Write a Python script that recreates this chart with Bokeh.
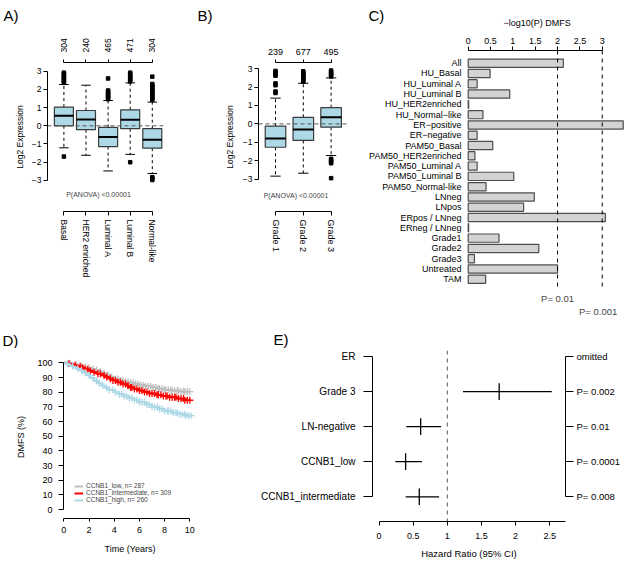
import numpy as np
from bokeh.plotting import figure
from bokeh.models import Range1d, LinearAxis, FixedTicker, Label, Span, Legend, LegendItem
from bokeh.layouts import row, column
from bokeh.embed import file_html
from bokeh.resources import INLINE

FONT = "Liberation Sans"

# ---------------- Panel A data ----------------
A_groups = ["Basal", "HER2 enriched", "Luminal A", "Luminal B", "Normal-like"]
A_counts = ["304", "240", "465", "471", "304"]
A_q1 = [0.00, -0.21, -1.14, -0.16, -1.23]
A_med = [0.55, 0.34, -0.62, 0.33, -0.77]
A_q3 = [1.03, 0.84, -0.09, 0.88, -0.16]
A_lo = [-1.21, -1.62, -2.48, -1.57, -2.62]
A_hi = [2.27, 2.23, 1.39, 2.36, 1.30]
A_out = [[2.36, 2.44, 2.52, 2.60, 2.68, 2.76, 2.84, 2.92, -1.69],
         [],
         [1.46, 1.54, 1.62, 1.70, 1.78, 1.86, 1.94, 2.60],
         [2.44, 2.52, 2.60, 2.68, 2.76, 2.84, 2.92, -2.00],
         [1.42, 1.50, 1.58, 1.66, 1.74, 1.82, 1.90, 1.98, 2.06, 2.14, 2.22, 2.30, 2.70,
          -2.82, -2.90, -2.98]]
A_pval = "P(ANOVA) <0.00001"

# ---------------- Panel B data ----------------
B_groups = ["Grade 1", "Grade 2", "Grade 3"]
B_counts = ["239", "677", "495"]
B_q1 = [-1.27, -0.90, -0.18]
B_med = [-0.79, -0.30, 0.36]
B_q3 = [-0.12, 0.36, 0.88]
B_lo = [-2.84, -2.68, -1.72]
B_hi = [1.40, 2.21, 2.50]
B_out = [[1.68, 1.76, 2.10, 2.20, 2.62, 2.70, 2.78, 2.88],
         [2.30, 2.38, 2.46, 2.54, 2.62, 2.70, 2.78, 2.86],
         [2.58, 2.66, 2.74, 2.82, 2.90, -1.90, -1.98, -2.06, -2.14, -2.95]]
B_pval = "P(ANOVA) <0.00001"

Y_ticks = [-3, -2, -1, 0, 1, 2, 3]
Y_tick_labels = ["\u22123", "\u22122", "\u22121", "0", "1", "2", "3"]

# ---------------- Panel C data ----------------
C_labels = ["All", "HU_Basal", "HU_Luminal A", "HU_Luminal B", "HU_HER2enriched",
            "HU_Normal\u2212like", "ER\u2212positive", "ER\u2212negative", "PAM50_Basal",
            "PAM50_HER2enriched", "PAM50_Luminal A", "PAM50_Luminal B", "PAM50_Normal-like",
            "LNneg", "LNpos", "ERpos / LNneg", "ERneg / LNneg", "Grade1", "Grade2", "Grade3",
            "Untreated", "TAM"]
C_vals = [2.13, 0.49, 0.20, 0.93, 0.01, 0.33, 3.47, 0.20, 0.55, 0.15, 0.20, 1.02, 0.40,
          1.48, 1.24, 3.07, 0.01, 0.69, 1.58, 0.14, 2.00, 0.39]
C_ticks = [0, 0.5, 1, 1.5, 2, 2.5, 3]
C_tick_labels = ["0", "0.5", "1", "1.5", "2", "2.5", "3"]
C_thresh = [2, 3]
C_thresh_labels = ["P= 0.01", "P= 0.001"]
C_title = "\u2212log10(P) DMFS"

# ---------------- Panel D data ----------------
D_low_t = [0, 0.3, 0.6, 0.9, 1.2, 1.5, 1.8, 2.1, 2.4, 2.8, 3.1, 3.4, 3.7, 4.0, 4.4, 4.8,
           5.2, 5.6, 6.0, 6.5, 7.0, 7.5, 8.0, 8.6, 9.2, 10.0]
D_low_s = [100, 99.7, 99.3, 98.6, 97.9, 97.2, 96.5, 95.8, 95.1, 94.0, 92.9, 91.8, 90.4, 89.0,
           87.9, 87.1, 86.4, 85.6, 84.8, 84.0, 83.2, 82.4, 81.6, 81.0, 80.4, 80.4]
D_low_cens = [0.5, 1.0, 1.4, 1.7, 2.0, 2.3, 2.6, 2.9, 3.2, 3.5, 3.8, 4.1, 4.3, 4.5, 4.7, 4.9,
              5.1, 5.3, 5.5, 5.7, 5.9, 6.1, 6.3, 6.5, 6.7, 6.9, 7.1, 7.3, 7.5, 7.6, 7.8, 8.0,
              8.1, 8.3, 8.5, 8.6, 8.8, 9.0, 9.1, 9.3, 9.5, 9.6, 9.8, 10.0]
D_mid_t = [0, 0.2, 0.5, 0.8, 1.1, 1.4, 1.7, 2.0, 2.3, 2.6, 3.0, 3.3, 3.6, 3.9, 4.2, 4.6, 5.0,
           5.3, 5.6, 6.0, 6.4, 6.8, 7.3, 7.8, 8.3, 9.0, 9.6, 10.0]
D_mid_s = [100, 99.6, 99.0, 98.3, 97.6, 96.6, 95.6, 94.6, 93.6, 92.6, 91.4, 90.3, 89.1, 88.0,
           86.8, 85.6, 84.4, 83.2, 82.2, 81.1, 80.1, 79.1, 78.2, 77.4, 76.6, 75.6, 74.5, 74.5]
D_mid_cens = [0.4, 0.9, 1.3, 1.5, 1.7, 1.9, 2.1, 2.4, 2.7, 2.9, 3.2, 3.4, 3.7, 3.9, 4.1, 4.3,
              4.5, 4.7, 4.9, 5.1, 5.3, 5.4, 5.6, 5.8, 6.0, 6.2, 6.4, 6.6, 6.8, 7.0, 7.2, 7.4,
              7.5, 7.7, 7.9, 8.1, 8.2, 8.4, 8.6, 8.8, 8.9, 9.1, 9.3, 9.5, 9.6, 9.8, 10.0]
D_high_t = [0, 0.2, 0.4, 0.6, 0.8, 1.0, 1.2, 1.5, 1.8, 2.1, 2.4, 2.7, 3.0, 3.3, 3.6, 4.0, 4.4,
            4.8, 5.2, 5.6, 6.0, 6.5, 7.0, 7.5, 8.0, 8.6, 9.2, 9.7, 10.2]
D_high_s = [100, 99.2, 98.4, 97.6, 96.8, 96.0, 94.9, 93.2, 91.6, 89.6, 87.8, 86.1, 84.5, 83.0,
            81.6, 80.0, 78.6, 77.2, 76.0, 74.7, 73.2, 71.6, 69.9, 68.5, 67.2, 66.0, 65.0, 64.0,
            64.0]
D_high_cens = [0.3, 0.7, 1.1, 1.4, 1.7, 2.0, 2.3, 2.6, 2.8, 3.1, 3.4, 3.6, 3.9, 4.1, 4.4, 4.6,
               4.8, 5.0, 5.2, 5.4, 5.6, 5.8, 6.0, 6.2, 6.4, 6.6, 6.8, 7.0, 7.2, 7.4, 7.6, 7.8,
               8.0, 8.2, 8.3, 8.5, 8.7, 8.9, 9.0, 9.2, 9.4, 9.6, 9.7, 9.9, 10.1]
D_names = ["CCNB1_low, n= 287", "CCNB1_intermediate, n= 309", "CCNB1_high, n= 260"]
D_colors = ["#BEBEBE", "#FF0000", "#ADD8E6"]
D_xticks = [0, 2, 4, 6, 8, 10]
D_yticks = [0, 10, 20, 30, 40, 50, 60, 70, 80, 90, 100]

# ---------------- Panel E data ----------------
E_rows = ["ER", "Grade 3", "LN-negative", "CCNB1_low", "CCNB1_intermediate"]
E_pvals = ["omitted", "P= 0.002", "P= 0.01", "P= 0.0001", "P= 0.008"]
E_hr = [float("nan"), 1.76, 0.61, 0.39, 0.59]
E_lo = [float("nan"), 1.23, 0.40, 0.24, 0.39]
E_hi = [float("nan"), 2.53, 0.91, 0.63, 0.88]
E_ticks = [0, 0.5, 1, 1.5, 2, 2.5]
E_tick_labels = ["0", "0.5", "1", "1.5", "2", "2.5"]


def no_align(p):
    try:
        p.frame_align = False
    except Exception:
        pass


def mkfig(w, h, xr, yr, ml, mr, mt, mb):
    p = figure(width=w, height=h, x_range=Range1d(*xr), y_range=Range1d(*yr),
               x_axis_type=None, y_axis_type=None, toolbar_location=None, tools="",
               output_backend="svg", min_border_left=ml, min_border_right=mr,
               min_border_top=mt, min_border_bottom=mb)
    p.outline_line_color = None
    p.background_fill_color = "white"
    p.border_fill_color = "white"
    no_align(p)
    return p


def band(w, h, texts):
    """A strip above a panel that holds its letter (and free text) in pixel units."""
    p = figure(width=w, height=h, x_range=Range1d(0, w), y_range=Range1d(h, 0),
               x_axis_type=None, y_axis_type=None, toolbar_location=None, tools="",
               output_backend="svg", min_border=0)
    p.outline_line_color = None
    p.background_fill_color = "white"
    p.border_fill_color = "white"
    no_align(p)
    for x, y, t, fs, al in texts:
        p.add_layout(Label(x=x, y=y, text=t, text_font=FONT, text_font_size=fs,
                           text_align=al, text_baseline="middle", text_color="black"))
    return p


def mkaxis(ticks, labels=None, bounds=None, fs="9px", tick_out=4, standoff=3,
           orient="horizontal", label=None, label_fs="9px", label_standoff=5, line=True):
    ax = LinearAxis(ticker=FixedTicker(ticks=list(ticks), minor_ticks=[]))
    if labels is not None:
        ax.major_label_overrides = {t: l for t, l in zip(ticks, labels)}
    if bounds is not None:
        ax.bounds = bounds
    ax.major_label_text_font = FONT
    ax.major_label_text_font_size = fs
    ax.major_label_text_color = "black"
    ax.major_label_standoff = standoff
    ax.major_label_orientation = orient
    ax.major_tick_in = 0
    ax.major_tick_out = tick_out
    ax.minor_tick_line_color = None
    ax.axis_line_color = "black" if line else None
    ax.major_tick_line_color = "black" if line else None
    ax.axis_line_width = 1
    ax.major_tick_line_width = 1
    if label:
        ax.axis_label = label
        ax.axis_label_text_font = FONT
        ax.axis_label_text_font_size = label_fs
        ax.axis_label_text_font_style = "normal"
        ax.axis_label_text_color = "black"
        ax.axis_label_standoff = label_standoff
    return ax


def box_panel(p, q1, med, q3, lo, hi, outs, bw):
    pos = np.arange(1, len(q1) + 1, dtype=float)
    q1, med, q3, lo, hi = map(np.array, (q1, med, q3, lo, hi))
    p.segment(x0=pos, y0=q3, x1=pos, y1=hi, line_color="black", line_width=1, line_dash="3 3")
    p.segment(x0=pos, y0=q1, x1=pos, y1=lo, line_color="black", line_width=1, line_dash="3 3")
    p.segment(x0=pos - bw / 4, y0=hi, x1=pos + bw / 4, y1=hi, line_color="black", line_width=1)
    p.segment(x0=pos - bw / 4, y0=lo, x1=pos + bw / 4, y1=lo, line_color="black", line_width=1)
    p.vbar(x=pos, bottom=q1, top=q3, width=bw, fill_color="#ADD8E6",
           line_color="#3b3b3b", line_width=1.2)
    p.segment(x0=pos - bw / 2, y0=med, x1=pos + bw / 2, y1=med, line_color="black", line_width=2)
    ox = [pos[i] for i, o in enumerate(outs) for _ in o]
    oy = [v for o in outs for v in o]
    p.scatter(ox, oy, marker="square", size=3.5, fill_color="black", line_color="black")
    p.add_layout(Span(location=0, dimension="width", line_color="#555555",
                      line_width=1, line_dash="4 3"))


LETTER = "15px"

# ================= Panel A =================
pA = mkfig(165, 292, (0.258, 5.507), (-4.709, 3.478), 47, 2, 32, 111)
box_panel(pA, A_q1, A_med, A_q3, A_lo, A_hi, A_out, 0.86)
nA = len(A_groups)
pA.add_layout(mkaxis(Y_ticks, Y_tick_labels, (-3, 3), fs="8.5px", tick_out=4, standoff=2,
                     label="Log2 Expression", label_fs="8.5px", label_standoff=4), "left")
pA.add_layout(mkaxis(list(range(1, nA + 1)), A_counts, (1, nA), fs="8.5px", tick_out=3,
                     standoff=7, orient="vertical"), "above")
pA.add_layout(mkaxis(list(range(1, nA + 1)), A_groups, (1, nA), fs="8.5px", tick_out=4,
                     standoff=4, orient="vertical"), "below")
pA.add_layout(Label(x=2.566, y=-3.775, text=A_pval, text_font=FONT, text_font_size="7px",
                    text_align="center", text_baseline="middle"))
bA = band(165, 30, [(3, 15, "A)", LETTER, "left")])

# ================= Panel B =================
pB = mkfig(190, 292, (0.388, 3.590), (-4.761, 3.337), 93, 8, 32, 111)
box_panel(pB, B_q1, B_med, B_q3, B_lo, B_hi, B_out, 0.74)
nB = len(B_groups)
pB.add_layout(mkaxis(Y_ticks, Y_tick_labels, (-3, 3), fs="8.5px", tick_out=4, standoff=2,
                     label="Log2 Expression", label_fs="8.5px", label_standoff=5), "left")
pB.add_layout(mkaxis(list(range(1, nB + 1)), B_counts, (1, nB), fs="9px", tick_out=3,
                     standoff=5), "above")
pB.add_layout(mkaxis(list(range(1, nB + 1)), B_groups, (1, nB), fs="9px", tick_out=4,
                     standoff=4, orient="vertical"), "below")
pB.add_layout(Label(x=1.737, y=-3.89, text=B_pval, text_font=FONT, text_font_size="7px",
                    text_align="center", text_baseline="middle"))
bB = band(190, 30, [(32, 15, "B)", LETTER, "left")])

# ================= Panel C =================
nC = len(C_labels)
pC = mkfig(270, 292, (-0.0828, 3.521), (26.005, -0.234), 109, 0, 20, 2)
cpos = list(range(1, nC + 1))
pC.hbar(y=cpos, left=0, right=C_vals, height=0.8, fill_color="#D3D3D3",
        line_color="#4d4d4d", line_width=1.2)
pC.segment(x0=C_thresh, y0=[-0.234] * 2, x1=C_thresh, y1=[23.09] * 2,
           line_color="black", line_width=1, line_dash="4 4")
pC.add_layout(mkaxis(cpos, C_labels, None, fs="9px", tick_out=0, standoff=3, line=False), "left")
pC.add_layout(mkaxis(C_ticks, C_tick_labels, (0, 3), fs="9px", tick_out=4, standoff=3), "above")
for xv, lab, yv in zip([2.0, 2.908], C_thresh_labels, [23.87, 25.1]):
    pC.add_layout(Label(x=xv, y=yv, text=lab, text_font=FONT, text_font_size="9.5px",
                        text_align="center", text_baseline="middle"))
bC = band(270, 30, [(13, 15, "C)", LETTER, "left"), (181.7, 22, C_title, "9px", "center")])

# ================= Panel D =================
pD = mkfig(250, 214, (-0.024, 10.53), (-6.13, 105.0), 63, 54, 7, 44)
items = []
for t, s, c, col, name in [(D_low_t, D_low_s, D_low_cens, D_colors[0], D_names[0]),
                           (D_mid_t, D_mid_s, D_mid_cens, D_colors[1], D_names[1]),
                           (D_high_t, D_high_s, D_high_cens, D_colors[2], D_names[2])]:
    r = pD.step(t, s, mode="after", line_color=col, line_width=2)
    ta = np.array(t)
    idx = np.searchsorted(ta, np.array(c), side="right") - 1
    cy = np.array(s)[idx]
    pD.scatter(c, cy, marker="cross", size=7, line_color=col, line_width=1.3)
    items.append(LegendItem(label=name, renderers=[r]))
leg = Legend(items=items, location=(11, 15), label_text_font=FONT, label_text_font_size="6.5px",
             glyph_width=9, glyph_height=6, label_height=6, spacing=0, padding=0, margin=0,
             label_standoff=3, border_line_color=None, background_fill_alpha=0)
pD.add_layout(leg)
pD.add_layout(mkaxis(D_yticks, None, (0, 100), fs="9px", tick_out=5, standoff=6,
                     label="DMFS (%)", label_fs="9px", label_standoff=8), "left")
pD.add_layout(mkaxis(D_xticks, None, (0, 10), fs="9px", tick_out=3, standoff=5,
                     label="Time (Years)", label_fs="9px", label_standoff=8), "below")
bD = band(250, 26, [(2, 18, "D)", LETTER, "left")])

# ================= Panel E =================
nE = len(E_rows)
epos = np.arange(1, nE + 1, dtype=float)
pE = mkfig(375, 214, (-0.0952, 2.731), (5.705, 0.829), 122, 60, 2, 41)
pE.add_layout(Span(location=1, dimension="height", line_color="#555555", line_width=1,
                   line_dash="4 4"))
pE.segment(x0=E_lo, y0=epos, x1=E_hi, y1=epos, line_color="black", line_width=1.3)
pE.segment(x0=E_hr, y0=epos - 0.238, x1=E_hr, y1=epos + 0.238, line_color="black",
           line_width=1.3)
pE.add_layout(mkaxis(list(epos), E_rows, (1, nE), fs="10px", tick_out=9, standoff=8), "left")
pE.add_layout(mkaxis(list(epos), E_pvals, (1, nE), fs="9.5px", tick_out=8, standoff=3), "right")
pE.add_layout(mkaxis(E_ticks, E_tick_labels, (0, 2.731), fs="9px", tick_out=4, standoff=7,
                     label="Hazard Ratio (95% CI)", label_fs="9.5px", label_standoff=6), "below")
bE = band(375, 26, [(23, 17, "E)", LETTER, "left")])

layout = column(row(column(bA, pA), column(bB, pB), column(bC, pC)),
                row(column(bD, pD), column(bE, pE)))
open("out.html", "w").write(file_html(layout, INLINE))
